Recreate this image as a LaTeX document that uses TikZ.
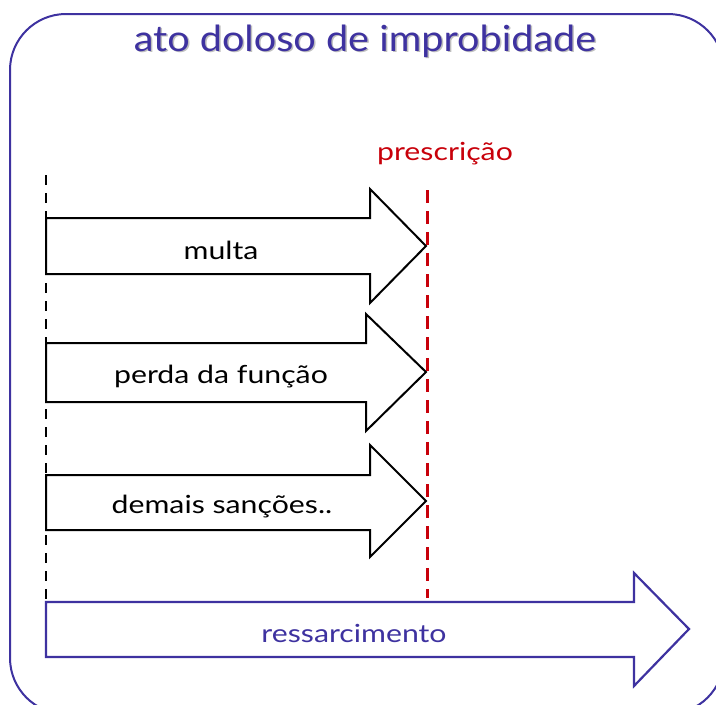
\documentclass[tikz,border=0pt]{standalone}
\usepackage{fontspec}
\setmainfont{Lato}
\newfontfamily\widefont[FakeStretch=1.21]{Lato}
\newfontfamily\titlefont[FakeStretch=1.1]{Lato}
\definecolor{indigo}{RGB}{62,50,160}
\definecolor{presred}{RGB}{200,0,10}
\begin{document}
\begin{tikzpicture}[x=1pt,y=-1pt,
  blackarrow/.style={draw=black,line width=2pt,fill=white,line join=miter},
  bluearrow/.style={draw=indigo,line width=2.2pt,fill=white,line join=miter},
  lbl/.style={font=\widefont\fontsize{25}{29}\selectfont,text=black},
]
\useasboundingbox (0,0) rectangle (716,705);
\draw[indigo,line width=2pt,rounded corners=56pt] (10,14) rectangle (724,714);
\node[text=black!25,font=\titlefont\fontsize{36}{40}\selectfont] at (366.5,42.5) {ato doloso de improbidade};
\node (title) [text=indigo,font=\titlefont\fontsize{36}{40}\selectfont] at (365,41) {ato doloso de improbidade};
% start dashed line
\coordinate (s1) at (46,175);
\coordinate (s2) at (46,600);
\draw[black,line width=2pt,dash pattern=on 10pt off 8pt] (s1) -- (s2);
% arrows
\draw[blackarrow] (46,218) -- (370,218) -- (370,189) -- (426,246) -- (370,303) -- (370,274) -- (46,274) -- cycle;
\node (a1) [lbl] at (221,250) {multa};
\draw[blackarrow] (46,343) -- (366,343) -- (366,314) -- (426,372) -- (366,431) -- (366,402) -- (46,402) -- cycle;
\node (a2) [lbl] at (221,377) {perda da função};
\draw[blackarrow] (46,475) -- (370,475) -- (370,445) -- (426,501) -- (370,557) -- (370,530) -- (46,530) -- cycle;
\node (a3) [lbl] at (222,507) {demais sanções..};
% prescricao line
\coordinate (p1) at (427,190);
\coordinate (p2) at (427,598);
\draw[presred,line width=3pt,dash pattern=on 13pt off 8pt] (p1) -- (p2);
\node (presc) [text=presred,font=\widefont\fontsize{25}{29}\selectfont] at (445,154) {prescrição};
% ressarcimento
\draw[bluearrow] (46,602) -- (634,602) -- (634,573) -- (689,629) -- (634,686) -- (634,657) -- (46,657) -- cycle;
\node (res) [text=indigo,font=\widefont\fontsize{25}{29}\selectfont] at (354,633) {ressarcimento};
\end{tikzpicture}
\end{document}
